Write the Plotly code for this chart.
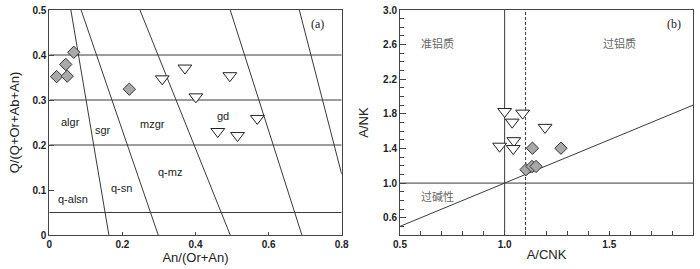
import plotly.graph_objects as go

# ---------------- Panel (a) data ----------------
a_dia_x = [0.067, 0.045, 0.020, 0.049, 0.219]
a_dia_y = [0.406, 0.379, 0.352, 0.353, 0.324]
a_tri_x = [0.309, 0.371, 0.401, 0.494, 0.569, 0.461, 0.515]
a_tri_y = [0.347, 0.371, 0.307, 0.354, 0.259, 0.230, 0.221]

# horizontal boundaries (Q' values)
a_hlines = [0.05, 0.2, 0.3, 0.4]
# slanted boundaries: (x_top, y_top, x_bottom, y_bottom)
a_slant_x0 = [0.059, 0.087, 0.248, 0.495, 0.684]
a_slant_y0 = [0.5, 0.5, 0.5, 0.5, 0.5]
a_slant_x1 = [0.163, 0.298, 0.495, 0.691, 0.8]
a_slant_y1 = [0.0, 0.0, 0.0, 0.0, 0.135]

a_labels = ["algr", "sgr", "mzgr", "gd", "q-alsn", "q-sn", "q-mz"]
a_label_x = [0.057, 0.147, 0.281, 0.474, 0.066, 0.198, 0.330]
a_label_y = [0.252, 0.233, 0.246, 0.264, 0.081, 0.104, 0.140]

a_xticks = [0, 0.2, 0.4, 0.6, 0.8]
a_xticklabels = ["0", "0.2", "0.4", "0.6", "0.8"]
a_yticks = [0, 0.1, 0.2, 0.3, 0.4, 0.5]
a_yticklabels = ["0", "0.1", "0.2", "0.3", "0.4", "0.5"]

# ---------------- Panel (b) data ----------------
b_tri_x = [1.000, 1.036, 1.086, 1.193, 0.976, 1.044, 1.041]
b_tri_y = [1.827, 1.704, 1.808, 1.644, 1.426, 1.490, 1.399]
b_dia_x = [1.133, 1.269, 1.102, 1.131, 1.150]
b_dia_y = [1.403, 1.403, 1.155, 1.192, 1.192]

b_labels = ["准铝质", "过铝质", "过碱性"]
b_label_x = [0.68, 1.547, 0.68]
b_label_y = [2.62, 2.62, 0.85]

b_xticks = [0.5, 1.0, 1.5]
b_xticklabels = ["0.5", "1.0", "1.5"]
b_xminor = [0.6, 0.7, 0.8, 0.9, 1.1, 1.2, 1.3, 1.4, 1.6, 1.7, 1.8]
b_yticks = [0.6, 1.0, 1.4, 1.8, 2.2, 2.6, 3.0]
b_yticklabels = ["0.6", "1.0", "1.4", "1.8", "2.2", "2.6", "3.0"]
b_yminor = [0.5, 0.7, 0.8, 0.9, 1.1, 1.2, 1.3, 1.5, 1.6, 1.7, 1.9, 2.0, 2.1,
            2.3, 2.4, 2.5, 2.7, 2.8, 2.9]

LINE = "#3a3a3a"
fig = go.Figure()

# panel (a) boundaries
for h in a_hlines:
    fig.add_trace(go.Scatter(x=[0, 0.8], y=[h, h], mode="lines",
                             line=dict(color=LINE, width=1), xaxis="x", yaxis="y",
                             hoverinfo="skip", showlegend=False))
for x0, y0, x1, y1 in zip(a_slant_x0, a_slant_y0, a_slant_x1, a_slant_y1):
    fig.add_trace(go.Scatter(x=[x0, x1], y=[y0, y1], mode="lines",
                             line=dict(color=LINE, width=1), xaxis="x", yaxis="y",
                             hoverinfo="skip", showlegend=False))

fig.add_trace(go.Scatter(x=a_tri_x, y=a_tri_y, mode="markers", xaxis="x", yaxis="y",
                         marker=dict(symbol="triangle-down", size=12, color="white",
                                     line=dict(color="#222", width=1)), showlegend=False))
fig.add_trace(go.Scatter(x=a_dia_x, y=a_dia_y, mode="markers", xaxis="x", yaxis="y",
                         marker=dict(symbol="diamond", size=9.5, color="#a9a9a9",
                                     line=dict(color="#333", width=1)), showlegend=False))

# panel (b) boundaries
fig.add_trace(go.Scatter(x=[1.0, 1.0], y=[0.4, 3.0], mode="lines", xaxis="x2", yaxis="y2",
                         line=dict(color=LINE, width=1), hoverinfo="skip", showlegend=False))
fig.add_trace(go.Scatter(x=[1.1, 1.1], y=[0.4, 3.0], mode="lines", xaxis="x2", yaxis="y2",
                         line=dict(color=LINE, width=1, dash="3px,2px"), hoverinfo="skip", showlegend=False))
fig.add_trace(go.Scatter(x=[0.5, 1.9], y=[1.0, 1.0], mode="lines", xaxis="x2", yaxis="y2",
                         line=dict(color=LINE, width=1), hoverinfo="skip", showlegend=False))
fig.add_trace(go.Scatter(x=[0.5, 1.9], y=[0.5, 1.9], mode="lines", xaxis="x2", yaxis="y2",
                         line=dict(color=LINE, width=1), hoverinfo="skip", showlegend=False))

fig.add_trace(go.Scatter(x=b_tri_x, y=b_tri_y, mode="markers", xaxis="x2", yaxis="y2",
                         marker=dict(symbol="triangle-down", size=12, color="white",
                                     line=dict(color="#222", width=1)), showlegend=False))
fig.add_trace(go.Scatter(x=b_dia_x, y=b_dia_y, mode="markers", xaxis="x2", yaxis="y2",
                         marker=dict(symbol="diamond", size=9.5, color="#a9a9a9",
                                     line=dict(color="#333", width=1)), showlegend=False))

annotations = []
for t, x, y in zip(a_labels, a_label_x, a_label_y):
    annotations.append(dict(text=t, x=x, y=y, xref="x", yref="y", showarrow=False,
                            font=dict(family="Liberation Sans, Arial", size=11, color="#222")))
annotations.append(dict(text="(a)", x=0.735, y=0.469, xref="x", yref="y", showarrow=False,
                        font=dict(family="Liberation Serif, DejaVu Serif", size=12, color="#222")))
for t, x, y in zip(b_labels, b_label_x, b_label_y):
    annotations.append(dict(text=t, x=x, y=y, xref="x2", yref="y2", showarrow=False,
                            font=dict(family="Noto Sans CJK SC", size=11, color="#666")))
annotations.append(dict(text="(b)", x=1.807, y=2.84, xref="x2", yref="y2", showarrow=False,
                        font=dict(family="Liberation Serif, DejaVu Serif", size=12, color="#222")))

tickfont = dict(family="Liberation Sans, Arial", size=10, color="#222")
titlefont = dict(family="Liberation Sans, Arial", size=13, color="#222")
axcommon = dict(showgrid=False, zeroline=False, showline=True, mirror=True, automargin=False,
                linecolor="#444", linewidth=1, ticks="inside", tickcolor="#444",
                tickfont=tickfont)

def bold(labels):
    return ["<b>%s</b>" % s for s in labels]

fig.update_layout(
    width=700, height=269,
    margin=dict(l=0, r=0, t=10, b=34),
    paper_bgcolor="white", plot_bgcolor="white",
    xaxis=dict(domain=[49.3 / 700, 341.7 / 700], range=[0, 0.8], tickvals=a_xticks,
               ticktext=bold(a_xticklabels), ticklen=3,
               title=dict(text="An/(Or+An)", font=titlefont, standoff=0), anchor="y", **axcommon),
    yaxis=dict(domain=[0, 1], range=[0, 0.5], tickvals=a_yticks,
               ticktext=bold(a_yticklabels), ticklen=5,
               title=dict(text="Q/(Q+Or+Ab+An)", font=titlefont, standoff=9), anchor="x", **axcommon),
    xaxis2=dict(domain=[400 / 700, 693 / 700], range=[0.5, 1.9], tickvals=b_xticks,
                ticktext=bold(b_xticklabels), ticklen=4,
                minor=dict(tickvals=b_xminor, ticks="inside", ticklen=4, tickcolor="#444"),
                title=dict(text="A/CNK", font=titlefont, standoff=0), anchor="y2", **axcommon),
    yaxis2=dict(domain=[0, 1], range=[0.4, 3.0], tickvals=b_yticks,
                ticktext=bold(b_yticklabels), ticklen=6,
                minor=dict(tickvals=b_yminor, ticks="inside", ticklen=4, tickcolor="#444"),
                title=dict(text="A/NK", font=titlefont, standoff=11), anchor="x2", **axcommon),
    annotations=annotations,
)

fig.write_html("out.html", config={"displayModeBar": False},
               post_script="document.body.style.margin='0';document.body.style.overflow='hidden';")
